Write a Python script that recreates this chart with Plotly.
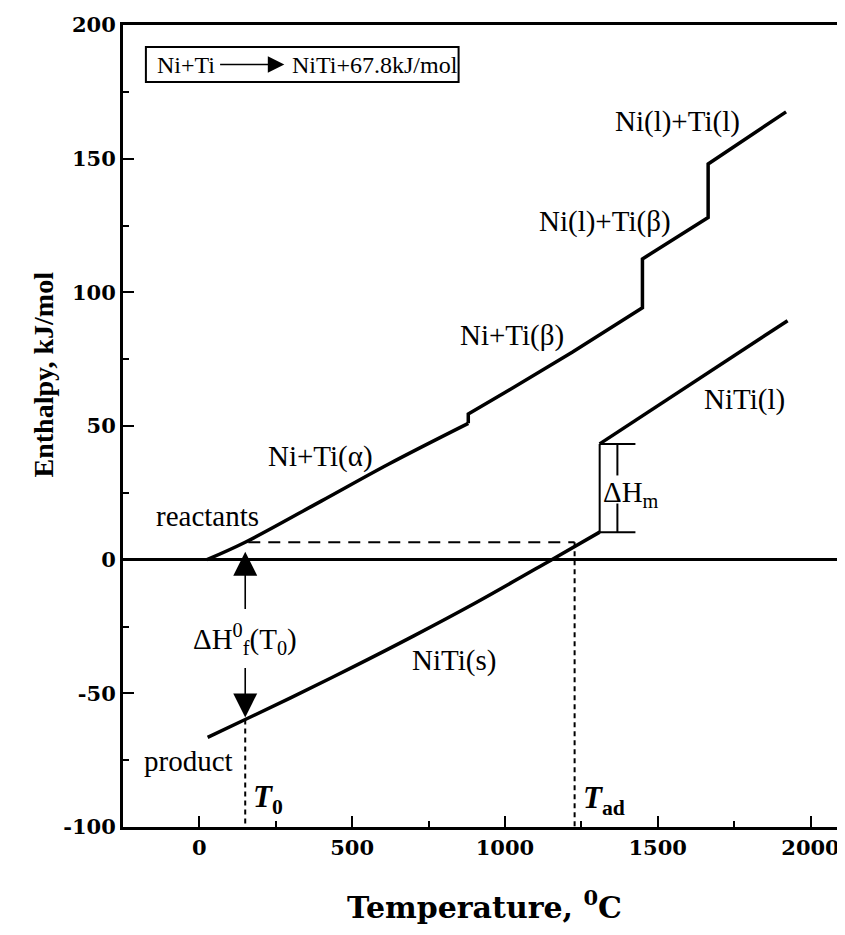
import plotly.graph_objects as go

# ---- data ----
react_a_T = [25, 150, 400, 620, 880]
react_a_H = [0, 6.5, 22, 35.8, 51]
react_b_T = [880, 880, 1000, 1220, 1450, 1450, 1665, 1665, 1920]
react_b_H = [51, 54.5, 62.5, 77.6, 94.2, 112.5, 128, 148, 167.5]

prod_s_T = [27, 150, 300, 500, 700, 900, 1153, 1310]
prod_s_H = [-66.5, -59.8, -51.6, -40.3, -28.6, -16.4, 0, 10.3]

prod_l_T = [1310, 1925]
prod_l_H = [43.3, 89.4]

T0 = 150
Tad = 1228
H_level = 6.5
H_melt_low = 10.3
H_melt_high = 43.3

x_ticks = [0, 500, 1000, 1500, 2000]
y_ticks = [-100, -50, 0, 50, 100, 150, 200]

TIMES = "Liberation Serif"
DEJA = "DejaVu Serif"
BLACK = "black"

# plot area in page pixels (reference): left 123, right 841, top 24, bottom 827
PX_L, PX_R, PX_T, PX_B = 123, 841, 24, 827
X0, X1 = -250, 2090


def px_to_T(px):
    return X0 + (px - PX_L) / (PX_R - PX_L) * (X1 - X0)


fig = go.Figure()


def line(x, y, width=3.5, dash=None, shape="linear"):
    fig.add_trace(go.Scatter(x=x, y=y, mode="lines", hoverinfo="skip",
                             line=dict(color=BLACK, width=width, dash=dash, shape=shape)))


# reactants curve
line(react_a_T, react_a_H, shape="spline")
line(react_b_T, react_b_H)
# product solid
line(prod_s_T, prod_s_H, shape="spline")
# melting step
line([prod_s_T[-1], prod_l_T[0]], [H_melt_low, H_melt_high], width=2)
# product liquid
line(prod_l_T, prod_l_H)

# dashed guide lines
line([T0 + 10, Tad], [H_level, H_level], width=2, dash="12px,8px")
line([Tad, Tad], [H_level, -100], width=2, dash="5px,4px")
line([T0, T0], [prod_s_H[1], -100], width=2, dash="5px,4px")

# Delta Hm bracket
bx0, bx1, bxm = 1310, 1427, 1368
line([bx0, bx1], [H_melt_high, H_melt_high], width=2)
line([bx0, bx1], [H_melt_low, H_melt_low], width=2)
line([bxm, bxm], [H_melt_high, 31.5], width=2)
line([bxm, bxm], [21, H_melt_low], width=2)

# box around reaction
fig.add_shape(type="rect", xref="x", yref="y", x0=px_to_T(146), x1=px_to_T(460),
              y0=178.7, y1=191.8, line=dict(color=BLACK, width=2), fillcolor="white")
box_font = dict(family=TIMES, size=24, color=BLACK)
fig.add_annotation(x=px_to_T(186), y=185.2, text="Ni+Ti", showarrow=False, font=box_font)
fig.add_annotation(x=px_to_T(376), y=185.2, text="NiTi+67.8kJ/mol", showarrow=False, font=box_font)
fig.add_annotation(x=px_to_T(285), y=185.2, ax=px_to_T(219), ay=185.2, axref="x", ayref="y",
                   text="", showarrow=True, arrowhead=2, arrowsize=2.2, arrowwidth=1.5,
                   arrowcolor=BLACK)

lab_font = dict(family=TIMES, size=29, color=BLACK)
labels = [
    ("Ni(l)+Ti(l)", 1564, 163.8),
    ("Ni(l)+Ti(β)", 1329, 126.4),
    ("Ni+Ti(β)", 1022, 83.8),
    ("Ni+Ti(α)", 395, 38.6),
    ("reactants", 26, 16.3),
    ("product", -36, -75.4),
    ("NiTi(s)", 832, -37.6),
    ("NiTi(l)", 1785, 59.9),
    ("ΔH<sub>m</sub>", 1412, 24.4),
    ("ΔH<sup>0</sup><sub>f</sub>(T<sub>0</sub>)", 150, -29.5),
]
for txt, x, y in labels:
    fig.add_annotation(x=x, y=y, xref="x", yref="y", text=txt, showarrow=False,
                       font=lab_font, xanchor="center", yanchor="middle")

ital_font = dict(family=TIMES, size=31, color=BLACK)
fig.add_annotation(x=224, y=-89.4, xref="x", yref="y", text="<b><i>T</i></b><sub><b>0</b></sub>",
                   showarrow=False, font=ital_font)
fig.add_annotation(x=1324, y=-90, xref="x", yref="y", text="<b><i>T</i></b><sub><b>ad</b></sub>",
                   showarrow=False, font=ital_font)

# arrows for Delta H_f
fig.add_annotation(x=T0, y=3, ax=T0, ay=-19, xref="x", yref="y", axref="x", ayref="y",
                   text="", showarrow=True, arrowhead=2, arrowsize=3, arrowwidth=1.6,
                   arrowcolor=BLACK)
fig.add_annotation(x=T0, y=-59, ax=T0, ay=-40, xref="x", yref="y", axref="x", ayref="y",
                   text="", showarrow=True, arrowhead=2, arrowsize=3, arrowwidth=1.6,
                   arrowcolor=BLACK)

# axis titles
W = PX_R - PX_L
H = PX_B - PX_T
fig.add_annotation(x=(486 - PX_L) / W, y=-(905 - PX_B) / H, xref="paper", yref="paper",
                   text="<b>Temperature, <sup>0</sup>C</b>", yanchor="middle",
                   showarrow=False, font=dict(family=DEJA, size=30, color=BLACK))
fig.add_annotation(x=(26 - PX_L) / W, y=1 - (374 - PX_T) / H, xref="paper", yref="paper",
                   text="<b>Enthalpy, kJ/mol</b>",
                   textangle=-90, showarrow=False, font=dict(family=TIMES, size=28, color=BLACK))

tick_font = dict(family=DEJA, size=21, color=BLACK, weight="bold")
fig.update_xaxes(range=[X0, X1], tickvals=x_ticks, ticktext=[str(v) for v in x_ticks],
                 ticks="inside", ticklen=11, tickwidth=2, tickcolor=BLACK,
                 minor=dict(tickvals=[250, 750, 1250, 1750], ticks="inside", ticklen=6,
                            tickwidth=1.5, tickcolor=BLACK),
                 showline=True, linecolor=BLACK, linewidth=3, mirror=True,
                 showgrid=False, zeroline=False, tickfont=tick_font)
fig.update_yaxes(range=[-100, 200], tickvals=y_ticks, ticktext=[str(v) for v in y_ticks],
                 ticks="inside", ticklen=11, tickwidth=2, tickcolor=BLACK,
                 minor=dict(tickvals=[-75, -25, 25, 75, 125, 175], ticks="inside", ticklen=6,
                            tickwidth=1.5, tickcolor=BLACK),
                 showline=True, linecolor=BLACK, linewidth=3, mirror=True,
                 showgrid=False, zeroline=True, zerolinecolor=BLACK, zerolinewidth=2.5,
                 tickfont=tick_font)

# the page body has an 8px margin, so the figure is drawn offset by 8px
OFF = 8
FIG_W, FIG_H = 845 - OFF, 935 - OFF
fig.update_layout(width=FIG_W, height=FIG_H,
                  margin=dict(l=PX_L - OFF, r=FIG_W + OFF - PX_R, t=PX_T - OFF,
                              b=FIG_H + OFF - PX_B),
                  plot_bgcolor="white", paper_bgcolor="white", showlegend=False)

fig.write_html("out.html")
